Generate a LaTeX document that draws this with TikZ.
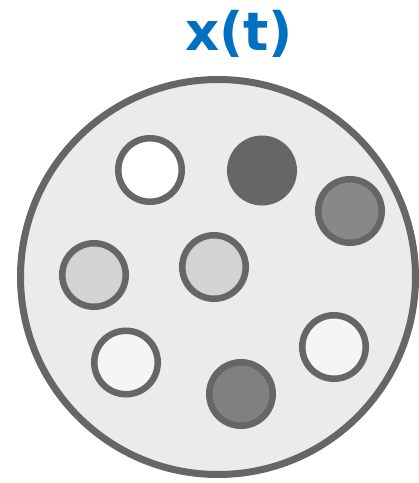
\documentclass[tikz,border=0pt]{standalone}
\usepackage{fontspec}
\setmainfont{DejaVu Sans}
\usepackage{tikz}
\usetikzlibrary{positioning}
\definecolor{rim}{HTML}{666666}
\definecolor{platefill}{HTML}{EBEBEB}
\definecolor{title}{HTML}{0070C0}
\definecolor{shadeA}{HTML}{FFFFFF}
\definecolor{shadeB}{HTML}{F5F5F5}
\definecolor{shadeC}{HTML}{D3D3D3}
\definecolor{shadeD}{HTML}{888888}
\definecolor{shadeE}{HTML}{808080}
\definecolor{shadeF}{HTML}{666666}
\tikzset{
  plate/.style={circle,draw=rim,fill=platefill,line width=7pt,minimum size=395pt,inner sep=0pt},
  dot/.style={circle,draw=rim,line width=6.5pt,minimum size=63.5pt,inner sep=0pt},
  label/.style={font=\bfseries\fontsize{53}{58}\selectfont,text=title,anchor=base,inner sep=0pt}
}
\begin{document}
\begin{tikzpicture}[x=1pt,y=1pt]
  \useasboundingbox (0,0) rectangle (419,483);
  \node[label] (xt) at (239,432) {x(t)};
  \node[plate] (plate) at (218,206) {};
  % particles
  \node[dot,fill=shadeA] (p1) at (150,313) {};
  \node[dot,fill=shadeF] (p2) at (262,312.5) {};
  \node[dot,fill=shadeD] (p3) at (350,272) {};
  \node[dot,fill=shadeC] (p4) at (94,208) {};
  \node[dot,fill=shadeC] (p5) at (214,216) {};
  \node[dot,fill=shadeB] (p6) at (126,120.5) {};
  \node[dot,fill=shadeB] (p7) at (334,136) {};
  \node[dot,fill=shadeE] (p8) at (241,89) {};
\end{tikzpicture}
\end{document}
